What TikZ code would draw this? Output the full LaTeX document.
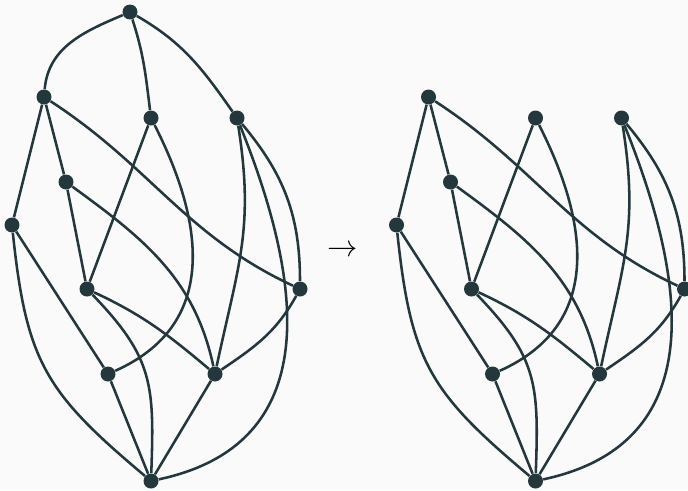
\documentclass[tikz,border=0pt]{standalone}
\definecolor{graphink}{RGB}{35,56,61}
\definecolor{paper}{RGB}{250,250,250}
\tikzset{
  vertex/.style={circle,fill=graphink,inner sep=0pt,minimum size=0.3cm},
  edge/.style={graphink,line width=1.45pt}
}
\begin{document}
\begin{tikzpicture}[x=0.02cm,y=0.02cm]
\fill[paper] (0,0) rectangle (688,-490);
\useasboundingbox (0,0) rectangle (688,-490);
\node[vertex] (T) at (130,-12) {};
\foreach \g/\dx in {l/0,r/384.5} {
  \node[vertex] (\g A) at (44+\dx,-97) {};
  \node[vertex] (\g B) at (151+\dx,-118) {};
  \node[vertex] (\g C) at (237+\dx,-118) {};
  \node[vertex] (\g D) at (66+\dx,-182) {};
  \node[vertex] (\g E) at (12+\dx,-225) {};
  \node[vertex] (\g F) at (300+\dx,-289) {};
  \node[vertex] (\g G) at (87+\dx,-289) {};
  \node[vertex] (\g H) at (108+\dx,-374) {};
  \node[vertex] (\g I) at (215+\dx,-374) {};
  \node[vertex] (\g J) at (151+\dx,-481) {};
  \draw[edge] (\g A) -- (\g E);
  \draw[edge] (\g A) -- (\g D);
  \draw[edge] (\g A) to[out=-33,in=155] (\g F);
  \draw[edge] (\g B) -- (\g G);
  \draw[edge] (\g B) to[out=-63,in=24,looseness=1.15] (\g H);
  \draw[edge] (\g C) to[out=-81,in=78,looseness=1.1] (\g I);
  \draw[edge] (\g C) to[out=-68,in=12,looseness=1.2] (\g J);
  \draw[edge] (\g C) to[out=-50,in=90] (\g F);
  \draw[edge] (\g D) -- (\g G);
  \draw[edge] (\g D) to[out=-36,in=102] (\g I);
  \draw[edge] (\g E) -- (\g H);
  \draw[edge] (\g E) to[out=-84,in=140,looseness=1.2] (\g J);
  \draw[edge] (\g G) to[out=-25,in=140] (\g I);
  \draw[edge] (\g G) to[out=-46,in=88,looseness=1.2] (\g J);
  \draw[edge] (\g H) -- (\g J);
  \draw[edge] (\g I) -- (\g J);
  \draw[edge] (\g I) to[out=34,in=-119] (\g F);
}
\draw[edge] (T) to[out=203,in=85] (lA);
\draw[edge] (T) to[out=-72,in=97] (lB);
\draw[edge] (T) to[out=-30,in=125] (lC);
\node (arrow) at (343,-251) {\fontsize{19}{20}\selectfont$\rightarrow$};
\end{tikzpicture}
\end{document}
